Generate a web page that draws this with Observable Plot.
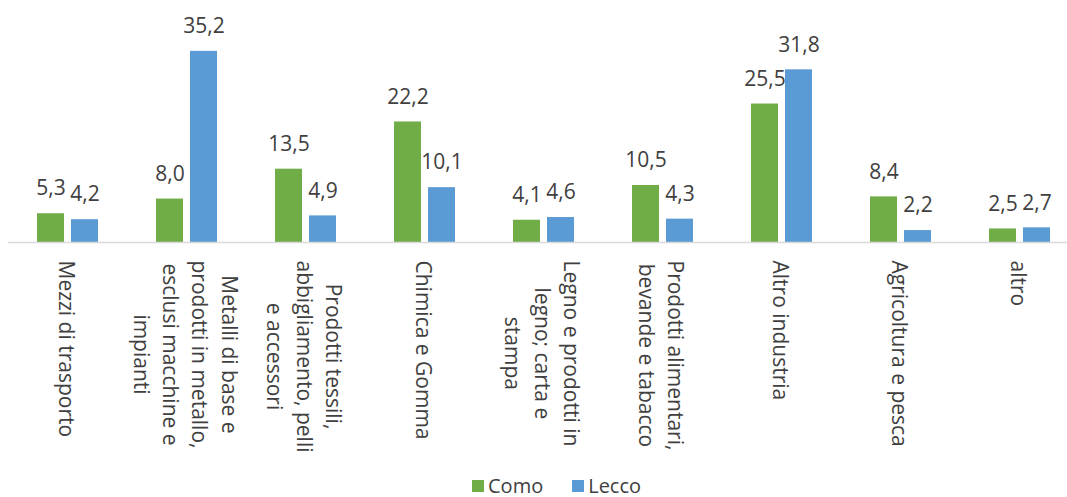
<!DOCTYPE html>
<html>
<head>
<meta charset="utf-8">
<script src="https://cdn.jsdelivr.net/npm/d3@7"></script>
<script src="https://cdn.jsdelivr.net/npm/@observablehq/plot@0.6"></script>
<style>
  html, body { margin: 0; padding: 0; background: #fff; overflow: hidden; }
  body { width: 1067px; height: 497px; position: relative; font-family: "Open Sans", sans-serif; }
  #legend { position: absolute; left: 472px; top: 476px; height: 20px; display: flex; align-items: center; font-size: 20px; color: #404040; line-height: 20px; }
  #legend .item { display: flex; align-items: center; margin-right: 29px; }
  #legend .sw { width: 12px; height: 12px; margin-right: 4px; }
</style>
</head>
<body>
<div id="chart"></div>
<div id="legend"></div>
<script>
const categories = [
  "Mezzi di trasporto",
  "Metalli di base e\nprodotti in metallo,\nesclusi macchine e\nimpianti",
  "Prodotti tessili,\nabbigliamento, pelli\ne accessori",
  "Chimica e Gomma",
  "Legno e prodotti in\nlegno; carta e\nstampa",
  "Prodotti alimentari,\nbevande e tabacco",
  "Altro industria",
  "Agricoltura e pesca",
  "altro"
];
const seriesNames = ["Como", "Lecco"];
const como  = [5.3, 8.0, 13.5, 22.2, 4.1, 10.5, 25.5, 8.4, 2.5];
const lecco = [4.2, 35.2, 4.9, 10.1, 4.6, 4.3, 31.8, 2.2, 2.7];
const colors = ["#70AD47", "#5B9BD5"];

const comoData = categories.map((c, i) => ({category: c, series: "Como", value: como[i]}));
const leccoData = categories.map((c, i) => ({category: c, series: "Lecco", value: lecco[i]}));
const fmt = v => v.toFixed(1).replace(".", ",");
const textColor = "#404040";

const chart = Plot.plot({
  width: 1067,
  height: 476,
  marginTop: 24.8,
  marginBottom: 234,
  marginLeft: 8,
  marginRight: 0,
  style: {fontFamily: "Open Sans", background: "#fff", overflow: "visible"},
  x: {domain: categories, range: [8, 1079.5], padding: 0, axis: null},
  y: {domain: [0, 40], axis: null},
  marks: [
    Plot.barY(comoData, {x: "category", y: "value", fill: colors[0], insetLeft: 29, insetRight: 63}),
    Plot.barY(leccoData, {x: "category", y: "value", fill: colors[1], insetLeft: 63, insetRight: 29}),
    Plot.ruleY([0], {stroke: "#d9d9d9", strokeWidth: 1.5}),
    Plot.text(comoData, {x: "category", y: "value", text: d => fmt(d.value), dx: -17, dy: -25, lineAnchor: "middle", fontSize: 21, fill: textColor}),
    Plot.text(leccoData, {x: "category", y: "value", text: d => fmt(d.value), dx: 17, dy: -25, lineAnchor: "middle", fontSize: 21, fill: textColor}),
    Plot.text(categories, {x: d => d, y: () => 0, text: d => d, rotate: 90, dy: 18, textAnchor: "middle", lineAnchor: "middle", lineHeight: 1.4, fontSize: 21, fill: textColor, className: "catlabel"})
  ]
});
document.getElementById("chart").appendChild(chart);

// Shift the rotated category labels so each block starts just below the axis with centred lines.
chart.querySelectorAll(".catlabel text").forEach(t => {
  const b = t.getBBox();
  const tr = t.getAttribute("transform") || "";
  t.setAttribute("transform", tr + ` translate(${b.width / 2},0)`);
});

const legend = document.getElementById("legend");
seriesNames.forEach((s, i) => {
  const item = document.createElement("div");
  item.className = "item";
  const sw = document.createElement("div");
  sw.className = "sw";
  sw.style.background = colors[i];
  const lab = document.createElement("span");
  lab.textContent = s;
  item.appendChild(sw);
  item.appendChild(lab);
  legend.appendChild(item);
});
</script>
</body>
</html>
